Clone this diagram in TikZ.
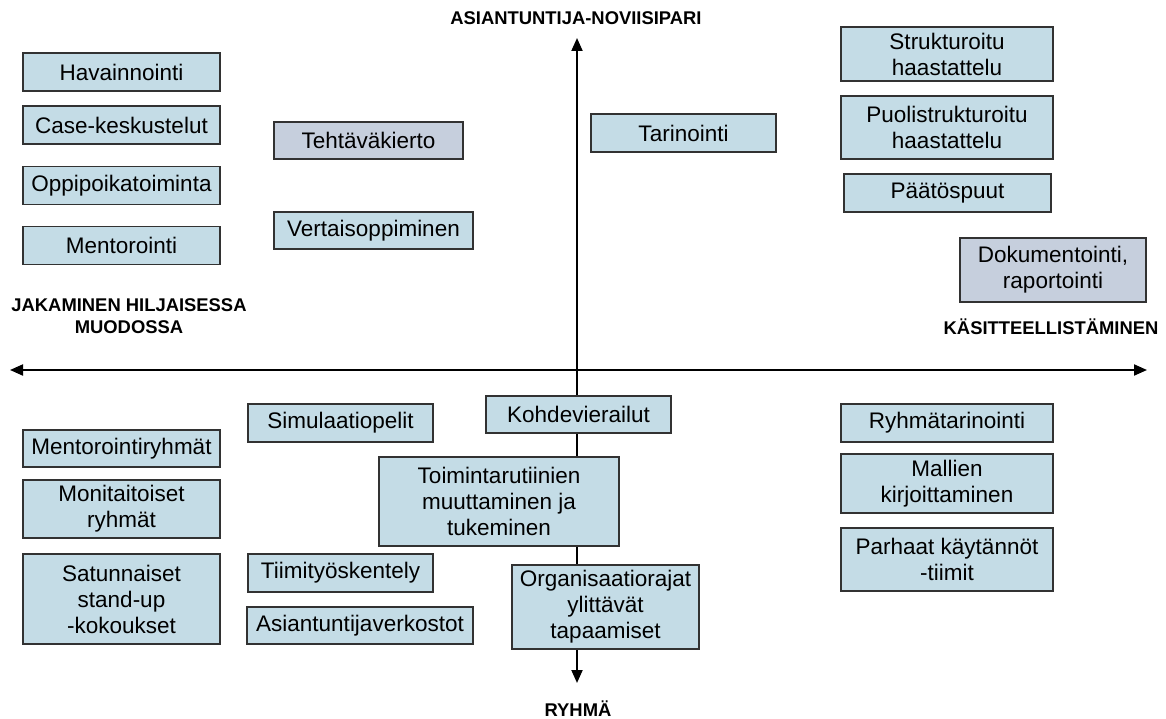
\documentclass[tikz,border=0pt]{standalone}
\usepackage{fontspec}
\setmainfont{Liberation Sans}
\usetikzlibrary{arrows.meta}
\definecolor{boxblue}{RGB}{196,220,230}
\definecolor{boxgray}{RGB}{198,207,221}
\definecolor{boxline}{RGB}{50,50,50}
\tikzset{x=1pt, y=-1pt,
    box/.style={draw=boxline, line width=1.3pt, fill=boxblue, align=center, inner sep=0pt,
        font=\fontsize{22.5}{26}\selectfont},
    greybox/.style={box, fill=boxgray},
    sz/.style 2 args={minimum width=#1pt, minimum height=#2pt},
    axis/.style={line width=2pt, {Triangle[length=13pt,width=11pt]}-{Triangle[length=13pt,width=11pt]}},
    axislabel/.style={inner sep=0pt, align=center, font=\fontsize{18.4}{22}\selectfont\bfseries}}

\begin{document}
\begin{tikzpicture}
    \useasboundingbox (0,0) rectangle (1166,719);
    % axes
    \coordinate (west) at (10,370);
    \coordinate (east) at (1147,370);
    \coordinate (north) at (577,38);
    \coordinate (south) at (577,683);
    \draw[axis] (west) -- (east);
    \draw[axis] (south) -- (north);
    \node[axislabel, anchor=base] (expert) at (576,25) {ASIANTUNTIJA-NOVIISIPARI};
    \node[axislabel, anchor=base] (group) at (578,716) {RYHMÄ};
    \node[axislabel, anchor=base] (concept) at (1051,334) {KÄSITTEELLISTÄMINEN};
    \node[axislabel] (tacit) at (129,316.5) {JAKAMINEN HILJAISESSA\\MUODOSSA};
    % upper left
    \node[box, sz={197}{38}] (havainnointi) at (121.5,72) {Havainnointi};
    \node[box, sz={197}{38}] (case) at (121.5,125) {Case-keskustelut};
    \node[box, sz={197}{38}] (oppipoika) at (121.5,185.5) {Oppipoikatoiminta};
    \node[box, sz={197}{38}] (mentorointi) at (121.5,245.5) {Mentorointi};
    \node[greybox, sz={189}{37}] (tehtava) at (368.5,140.5) {Tehtäväkierto};
    \node[box, sz={199}{37}] (vertais) at (373.5,230.5) {Vertaisoppiminen};
    % upper right
    \node[box, sz={185}{38}] (tarinointi) at (683.5,133) {Tarinointi};
    \node[box, sz={212}{54}] (struktur) at (947,54) {Strukturoitu\\haastattelu};
    \node[box, sz={212}{63}] (puoli) at (947,127.5) {Puolistrukturoitu\\haastattelu};
    \node[box, sz={207}{38}] (paatos) at (947.5,193) {Päätöspuut};
    \node[greybox, sz={186}{64}] (dokument) at (1053,270) {Dokumentointi,\\raportointi};
    % lower left
    \node[box, sz={197}{37}] (mentryhma) at (121.5,448.5) {Mentorointiryhmät};
    \node[box, sz={197}{58}] (monitaito) at (121.5,509) {Monitaitoiset\\ryhmät};
    \node[box, sz={197}{90}] (satunnaiset) at (121.5,599) {Satunnaiset\\stand-up\\-kokoukset};
    \node[box, sz={185}{38}] (simulaatio) at (340.5,423) {Simulaatiopelit};
    \node[box, sz={185}{38}] (tiimi) at (340.5,573) {Tiimityöskentely};
    \node[box, sz={226}{37}] (verkosto) at (360,625.5) {Asiantuntijaverkostot};
    % lower middle
    \node[box, sz={185}{37}] (kohde) at (578.5,414.5) {Kohdevierailut};
    \node[box, sz={240}{89}] (rutiinit) at (499,501.5) {Toimintarutiinien\\muuttaminen ja\\tukeminen};
    \node[box, sz={187}{84}] (organisaatio) at (605.5,607) {Organisaatiorajat\\ylittävät\\tapaamiset};
    % lower right
    \node[box, sz={212}{38}] (ryhmatar) at (947,423) {Ryhmätarinointi};
    \node[box, sz={212}{59}] (mallit) at (947,483.5) {Mallien\\kirjoittaminen};
    \node[box, sz={212}{63}] (parhaat) at (947,559.5) {Parhaat käytännöt\\-tiimit};
\end{tikzpicture}
\end{document}
